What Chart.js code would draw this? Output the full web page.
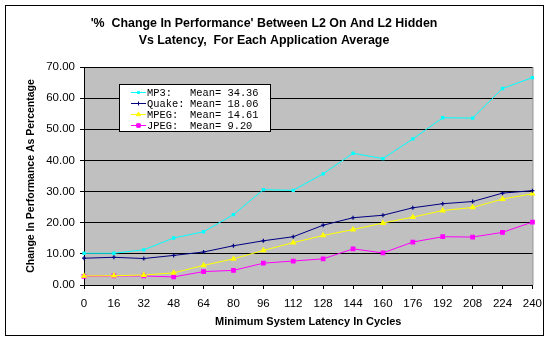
<!DOCTYPE html>
<html>
<head>
<meta charset="utf-8">
<script src="https://cdn.jsdelivr.net/npm/chart.js@4.4.1/dist/chart.umd.min.js"></script>
<style>
  html, body { margin: 0; padding: 0; background: #fff; }
</style>
</head>
<body>
<canvas id="perfChart" width="550" height="341"></canvas>
<script>
// latency in cycles
const latencies = ['0', '16', '32', '48', '64', '80', '96', '112', '128', '144', '160', '176', '192', '208', '224', '240'];

// % change per application
const mp3   = [10.2, 10.2, 11.3, 15.1, 17.1, 22.6, 30.6, 30.4, 35.7, 42.3, 40.6, 46.9, 53.7, 53.6, 63.1, 66.6];
const quake = [8.6, 8.9, 8.5, 9.5, 10.6, 12.6, 14.2, 15.5, 19.2, 21.6, 22.4, 24.8, 26.1, 26.8, 29.5, 30.3];
const mpeg  = [2.9, 3.0, 3.2, 3.9, 6.3, 8.4, 11.1, 13.6, 15.9, 17.8, 19.9, 21.8, 23.9, 24.9, 27.6, 29.3];
const jpeg  = [2.8, 2.9, 2.9, 2.6, 4.3, 4.7, 7.0, 7.7, 8.4, 11.6, 10.3, 13.8, 15.5, 15.4, 16.9, 20.2];

const seriesNames = ['MP3:', 'Quake:', 'MPEG:', 'JPEG:'];
const seriesMeans = ['34.36', '18.06', '14.61', '9.20'];

const titleLines = ["'%  Change In Performance' Between L2 On And L2 Hidden", 'Vs Latency,  For Each Application Average'];

const yMin = 0, yMax = 70, yStep = 10;

function series(label, data, color, style, radius) {
    return {
        label: label,
        data: data,
        borderColor: color,
        backgroundColor: color,
        borderWidth: 1,
        pointStyle: style,
        pointRadius: radius,
        pointBorderWidth: 1.2,
        pointHoverRadius: radius,
        tension: 0
    };
}

// frame, grey plot area, title
const backdrop = {
    id: 'backdrop',
    beforeDraw(chart) {
        const ctx = chart.ctx;
        const a = chart.chartArea;
        ctx.save();
        ctx.fillStyle = '#fff';
        ctx.fillRect(0, 0, chart.width, chart.height);
        ctx.strokeStyle = '#000';
        ctx.lineWidth = 1;
        ctx.strokeRect(5.5, 5.5, 538, 330);
        ctx.fillStyle = '#c0c0c0';
        ctx.fillRect(a.left, a.top, a.right - a.left, a.bottom - a.top);
        ctx.strokeStyle = '#808080';
        ctx.beginPath();
        ctx.moveTo(a.right + 0.5, a.top);
        ctx.lineTo(a.right + 0.5, a.bottom);
        ctx.stroke();

        ctx.fillStyle = '#000';
        ctx.font = 'bold 12.4px "Liberation Sans", Arial, sans-serif';
        ctx.textAlign = 'center';
        ctx.textBaseline = 'middle';
        ctx.fillText(titleLines[0], 264, 24);
        ctx.fillText(titleLines[1], 264, 41);
        ctx.restore();
    }
};

// boxed legend with the mean of each series
const meanLegend = {
    id: 'meanLegend',
    afterDraw(chart) {
        const ctx = chart.ctx;
        ctx.save();
        ctx.fillStyle = '#fff';
        ctx.fillRect(119.5, 84.5, 151, 47);
        ctx.strokeStyle = '#000';
        ctx.lineWidth = 1;
        ctx.strokeRect(119.5, 84.5, 151, 47);

        ctx.font = '10.4px "Liberation Mono", "Courier New", monospace';
        ctx.textBaseline = 'middle';
        ctx.textAlign = 'left';
        chart.data.datasets.forEach((ds, i) => {
            const y = 92.5 + i * 11;
            ctx.strokeStyle = ds.borderColor;
            ctx.fillStyle = ds.backgroundColor;
            ctx.lineWidth = 1;
            ctx.beginPath();
            ctx.moveTo(131, y);
            ctx.lineTo(146, y);
            ctx.stroke();
            Chart.helpers.drawPoint(ctx, {
                pointStyle: ds.pointStyle,
                radius: ds.pointRadius,
                borderWidth: ds.pointBorderWidth,
                rotation: 0
            }, 138.5, y);
            ctx.fillStyle = '#000';
            ctx.fillText(seriesNames[i], 147, y + 0.5);
            ctx.fillText('Mean= ' + seriesMeans[i], 190, y + 0.5);
        });
        ctx.restore();
    }
};

new Chart(document.getElementById('perfChart'), {
    type: 'line',
    data: {
        labels: latencies,
        datasets: [
            series('MP3', mp3, '#00ffff', 'rect', 1.5),
            series('Quake', quake, '#000080', 'cross', 2),
            series('MPEG', mpeg, '#ffff00', 'triangle', 2.5),
            series('JPEG', jpeg, '#ff00ff', 'rect', 2.5)
        ]
    },
    options: {
        responsive: false,
        animation: false,
        layout: { padding: { left: 0, right: 17, top: 67, bottom: 0 } },
        plugins: {
            legend: { display: false },
            tooltip: { enabled: false },
            title: { display: false }
        },
        scales: {
            x: {
                type: 'category',
                offset: false,
                grid: { drawOnChartArea: false, drawTicks: true, tickLength: 4, color: '#000' },
                border: { color: '#000', width: 1 },
                ticks: {
                    autoSkip: false,
                    maxRotation: 0,
                    padding: 8,
                    color: '#000',
                    font: { family: '"Liberation Sans", Arial, sans-serif', size: 11.5 }
                },
                title: {
                    display: true,
                    text: 'Minimum System Latency In Cycles',
                    color: '#000',
                    font: { family: '"Liberation Sans", Arial, sans-serif', size: 11, weight: 'bold' },
                    padding: { top: 0, bottom: 12 }
                },
                afterFit(scale) { scale.height = 56; }
            },
            y: {
                min: yMin,
                max: yMax,
                grid: { color: '#000', lineWidth: 1, tickLength: 4 },
                border: { color: '#000', width: 1 },
                ticks: {
                    stepSize: yStep,
                    padding: 5,
                    color: '#000',
                    font: { family: '"Liberation Sans", Arial, sans-serif', size: 11.5 },
                    callback: v => v.toFixed(2)
                },
                title: {
                    display: true,
                    text: 'Change In Performance As Percentage',
                    color: '#000',
                    font: { family: '"Liberation Sans", Arial, sans-serif', size: 10.5, weight: 'bold' },
                    padding: { top: 25, bottom: 0 }
                },
                afterFit(scale) { scale.width = 84; }
            }
        }
    },
    plugins: [backdrop, meanLegend]
});
</script>
</body>
</html>
